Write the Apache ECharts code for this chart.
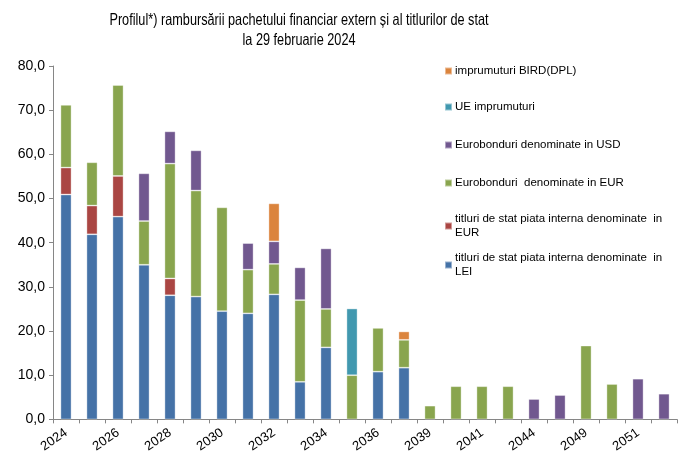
<!DOCTYPE html>
<html>
<head>
<meta charset="utf-8">
<script src="https://cdn.jsdelivr.net/npm/echarts@6/dist/echarts.min.js"></script>
<style>
  html, body { margin: 0; padding: 0; background: #fff; }
  #chart { width: 688px; height: 455px; }
</style>
</head>
<body>
<div id="chart"></div>
<script>
// ani scadenta
var years = ['2024', '2025', '2026', '2027', '2028', '2029', '2030', '2031', '2032', '2033',
  '2034', '2035', '2036', '2038', '2039', '2040', '2041', '2042', '2044', '2048',
  '2049', '2050', '2051', '2053'];

// mld. lei, pe categorii de datorie (de jos in sus)
var leiInterna = [50.9, 41.9, 45.9, 35.0, 28.1, 27.8, 24.5, 24.0, 28.3, 8.5,
  16.3, 0, 10.8, 11.7, 0, 0, 0, 0, 0, 0, 0, 0, 0, 0];
var eurInterna = [6.1, 6.5, 9.2, 0, 3.8, 0, 0, 0, 0, 0,
  0, 0, 0, 0, 0, 0, 0, 0, 0, 0, 0, 0, 0, 0];
var euroEUR = [14.2, 9.8, 20.6, 9.9, 26.0, 24.0, 23.5, 9.9, 6.9, 18.5,
  8.7, 10.0, 9.9, 6.3, 3.1, 7.5, 7.5, 7.5, 0, 0, 16.7, 8.0, 0, 0];
var euroUSD = [0, 0, 0, 10.8, 7.3, 9.1, 0, 6.0, 5.1, 7.4,
  13.7, 0, 0, 0, 0, 0, 0, 0, 4.6, 5.5, 0, 0, 9.2, 5.8];
var ueImpr = [0, 0, 0, 0, 0, 0, 0, 0, 0, 0,
  0, 15.1, 0, 0, 0, 0, 0, 0, 0, 0, 0, 0, 0, 0];
var birdImpr = [0, 0, 0, 0, 0, 0, 0, 0, 8.6, 0,
  0, 0, 0, 1.9, 0, 0, 0, 0, 0, 0, 0, 0, 0, 0];

var yTicks = [0, 10, 20, 30, 40, 50, 60, 70, 80];

var names = [
  'titluri de stat piata interna denominate  in LEI',
  'titluri de stat piata interna denominate  in EUR',
  'Eurobonduri  denominate in EUR',
  'Eurobonduri denominate in USD',
  'UE imprumuturi',
  'imprumuturi BIRD(DPL)'
];
var values = [leiInterna, eurInterna, euroEUR, euroUSD, ueImpr, birdImpr];
var colors = ['#4572A7', '#AA4643', '#89A54E', '#71588F', '#4198AF', '#DB843D'];
// pozitia fiecarui element din legenda (de sus in jos)
var legendTops = [251, 212, 176, 138, 100, 64];

var chart = echarts.init(document.getElementById('chart'));

var series = names.map(function (n, i) {
  return {
    name: n,
    type: 'bar',
    stack: 'total',
    barWidth: 11,
    data: values[i].map(function (v) { return v === 0 ? null : v; }),
    itemStyle: {
      color: colors[i],
      borderColor: 'rgba(255,255,255,0.45)',
      borderWidth: 0.8
    }
  };
});

var legends = names.map(function (n, i) {
  return {
    data: [n],
    left: 444,
    top: legendTops[i],
    orient: 'vertical',
    itemWidth: 7,
    itemHeight: 7,
    itemGap: 0,
    padding: 0,
    icon: 'rect',
    selectedMode: false,
    textStyle: {
      fontFamily: 'Liberation Sans, Arial, sans-serif',
      fontSize: 11.5,
      color: '#000',
      width: 212,
      overflow: 'break',
      lineHeight: 14,
      padding: [0, 0, 0, -2]
    }
  };
});

var option = {
  animation: false,
  backgroundColor: '#fff',
  // titlul e scris cu litere ingustate, ca in original
  graphic: [{
    type: 'text',
    x: 299,
    y: 10,
    scaleX: 0.77,
    style: {
      text: 'Profilul*) rambursării pachetului financiar extern și al titlurilor de stat\nla 29 februarie 2024',
      align: 'center',
      verticalAlign: 'top',
      fontFamily: 'Liberation Sans, Arial, sans-serif',
      fontSize: 16.5,
      lineHeight: 20,
      fill: '#000'
    }
  }],
  legend: legends,
  grid: {
    left: 53,
    right: 11,
    top: 66,
    bottom: 34
  },
  xAxis: {
    type: 'category',
    data: years,
    axisLine: { lineStyle: { color: '#868686', width: 1 } },
    axisTick: { show: true, interval: 0, length: 4, lineStyle: { color: '#868686' } },
    axisLabel: {
      interval: 1,
      rotate: 35,
      margin: 12,
      fontFamily: 'Liberation Sans, Arial, sans-serif',
      fontSize: 13,
      color: '#000'
    }
  },
  yAxis: {
    type: 'value',
    min: yTicks[0],
    max: yTicks[yTicks.length - 1],
    interval: 10,
    axisLine: { show: true, lineStyle: { color: '#868686', width: 1 } },
    axisTick: { show: true, length: 4, lineStyle: { color: '#868686' } },
    splitLine: { show: false },
    axisLabel: {
      margin: 8,
      fontFamily: 'Liberation Sans, Arial, sans-serif',
      fontSize: 14,
      color: '#000',
      formatter: function (v) { return v.toFixed(1).replace('.', ','); }
    }
  },
  series: series
};

chart.setOption(option);
</script>
</body>
</html>
